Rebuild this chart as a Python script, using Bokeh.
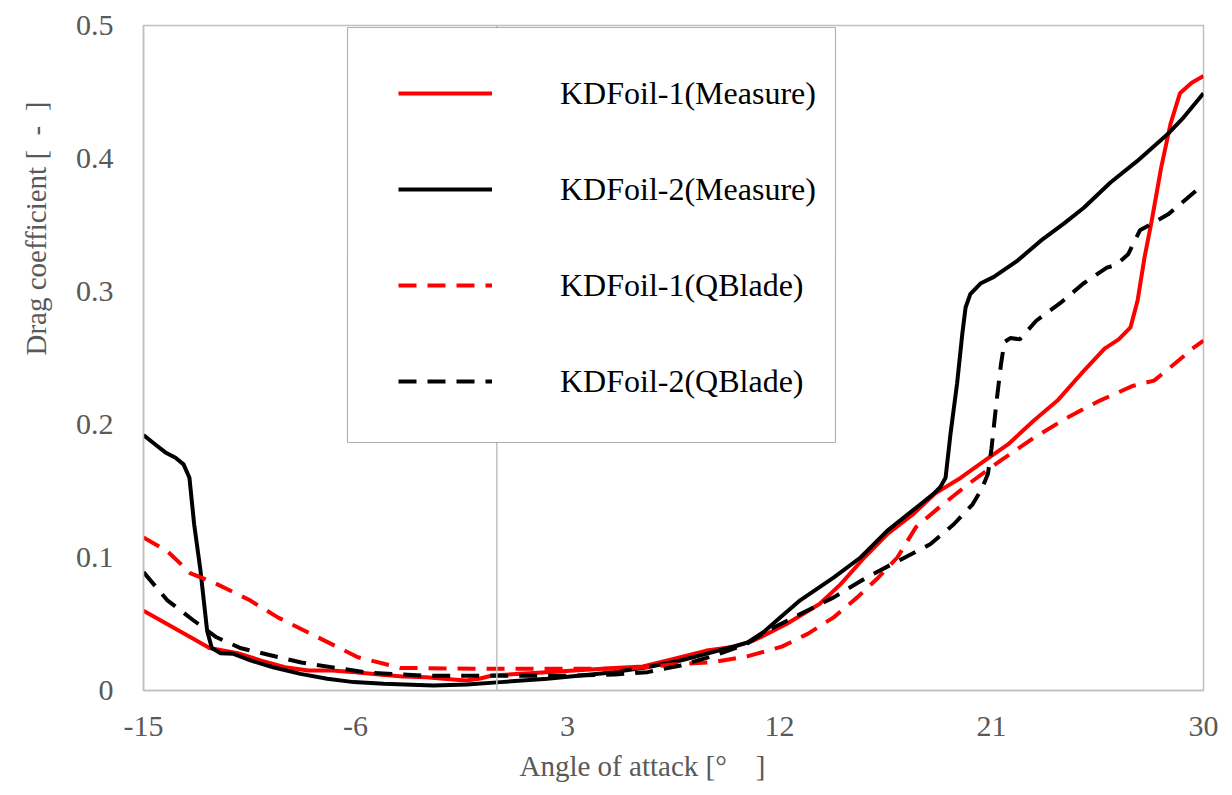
from bokeh.plotting import figure
from bokeh.models import (FixedTicker, Range1d, Span, BoxAnnotation, Legend, LegendItem, Title)
from bokeh.embed import file_html
from bokeh.resources import INLINE

# ---- data ----
x_ticks = [-15, -6, 3, 12, 21, 30]
x_tick_labels = ["-15", "-6", "3", "12", "21", "30"]
y_ticks = [0, 0.1, 0.2, 0.3, 0.4, 0.5]
y_tick_labels = ["0", "0.1", "0.2", "0.3", "0.4", "0.5"]

series_names = ["KDFoil-1(Measure)", "KDFoil-2(Measure)", "KDFoil-1(QBlade)", "KDFoil-2(QBlade)"]

kd1_meas_x = [-15, -14, -13, -12.2, -11, -10, -9, -8, -7, -6, -5, -4, -3, -2, -1.3, -0.7, -0.2, 0, 2.1, 5,
              6.2, 7.8, 8.9, 10.1, 10.9, 11.2, 12.3, 13.7, 14.6, 15.6, 16.6, 17.7, 18.6, 19.7, 20.8,
              21.7, 22.8, 23.8, 24.8, 25.8, 26.4, 26.9, 27.2, 27.5, 27.8, 28.2, 28.6, 29.0, 29.5, 30]
kd1_meas_y = [0.060, 0.050, 0.040, 0.032, 0.028, 0.0225, 0.0175, 0.015, 0.015, 0.0138, 0.012, 0.0105, 0.010,
              0.0085, 0.0075, 0.009, 0.0113, 0.0115, 0.0138, 0.017, 0.018, 0.025, 0.030, 0.033, 0.0376,
              0.040, 0.050, 0.065, 0.080, 0.100, 0.118, 0.133, 0.148, 0.160, 0.174, 0.185, 0.203, 0.218,
              0.238, 0.257, 0.264, 0.273, 0.293, 0.326, 0.353, 0.393, 0.426, 0.449, 0.457, 0.462]

kd2_meas_x = [-15, -14.5, -14.07, -13.64, -13.3, -13.05, -12.85, -12.58, -12.3, -12.1, -11.73, -11.18,
              -10.46, -9.5, -8.34, -7.2, -6.08, -4.8, -2.7, -1.26, 0.16, 2.14, 4.97, 6.38, 7.8, 9.21,
              10.63, 11.33, 12.04, 12.89, 14.31, 15.44, 16.57, 17.84, 18.55, 18.83, 19.05, 19.26, 19.54,
              19.76, 19.9, 20.1, 20.53, 21.1, 22.09, 23.08, 24.07, 24.92, 26.05, 27.18, 28.46, 29.16, 30]
kd2_meas_y = [0.192, 0.185, 0.179, 0.175, 0.170, 0.160, 0.125, 0.090, 0.045, 0.032, 0.028, 0.0276, 0.0226,
              0.0175, 0.0125, 0.0088, 0.0063, 0.005, 0.0038, 0.0045, 0.0063, 0.0088, 0.0138, 0.0175,
              0.0226, 0.029, 0.036, 0.044, 0.055, 0.068, 0.085, 0.100, 0.120, 0.138, 0.148, 0.153, 0.160,
              0.193, 0.231, 0.268, 0.288, 0.298, 0.306, 0.311, 0.323, 0.338, 0.351, 0.363, 0.382, 0.398,
              0.418, 0.431, 0.449]

kd1_qb_x = [-15, -14, -13, -12, -10.5, -9.3, -7.6, -5.9, -4.1, -2, 0, 3, 5.7, 7.8, 9.2, 10.7, 12.1, 13.2,
            14.3, 15.3, 16.2, 17.0, 17.8, 18.8, 20.0, 21.4, 22.8, 24.2, 25.6, 27.0, 27.9, 28.8, 29.6, 30]
kd1_qb_y = [0.115, 0.105, 0.088, 0.081, 0.068, 0.055, 0.040, 0.025, 0.017, 0.0165, 0.0163, 0.0163, 0.0165,
            0.020, 0.0213, 0.026, 0.033, 0.0426, 0.055, 0.070, 0.085, 0.100, 0.123, 0.138, 0.155, 0.173,
            0.190, 0.205, 0.218, 0.229, 0.233, 0.246, 0.258, 0.263]

kd2_qb_x = [-15, -14, -12.9, -11.9, -10.9, -8.3, -5.5, -3, 0, 3, 5, 6.4, 7.8, 9.2, 10.6, 11.5, 12.9, 14.3,
            15.7, 17.1, 18.4, 19.4, 20.2, 20.6, 20.85, 21.0, 21.2, 21.4, 21.55, 21.8, 22.2, 22.9, 23.9,
            24.9, 25.9, 26.3, 26.8, 27.3, 28.5, 29.7, 30]
kd2_qb_y = [0.089, 0.068, 0.053, 0.040, 0.032, 0.021, 0.0135, 0.011, 0.011, 0.011, 0.012, 0.0138, 0.0188,
            0.026, 0.035, 0.045, 0.0576, 0.070, 0.085, 0.098, 0.110, 0.125, 0.140, 0.152, 0.163, 0.182,
            0.215, 0.245, 0.262, 0.265, 0.264, 0.278, 0.291, 0.306, 0.318, 0.320, 0.328, 0.346, 0.358,
            0.376, 0.378]

x_title = "Angle of attack [°\u3000]"
y_title = "Drag coefficient [\u2002-\u2002]"

# ---- figure ----
FONT = "Liberation Serif"
GRAY_TXT = "#595959"
GRAY_LINE = "#bfbfbf"

p = figure(width=1232, height=795, output_backend="svg", toolbar_location=None,
           x_range=Range1d(-15, 30), y_range=Range1d(0, 0.5),
           min_border_left=143, min_border_right=29, min_border_top=25, min_border_bottom=105)
p.background_fill_color = "white"
p.border_fill_color = "white"
p.outline_line_color = GRAY_LINE
p.outline_line_width = 1.5
p.xgrid.grid_line_color = None
p.ygrid.grid_line_color = None

for ax in (p.xaxis[0], p.yaxis[0]):
    ax.axis_line_color = GRAY_LINE
    ax.axis_line_width = 1.5
    ax.major_tick_line_color = None
    ax.minor_tick_line_color = None
    ax.major_tick_out = 0
    ax.major_tick_in = 0
    ax.minor_tick_out = 0
    ax.major_label_text_font = FONT
    ax.major_label_text_font_size = "30px"
    ax.major_label_text_color = GRAY_TXT

p.xaxis[0].ticker = FixedTicker(ticks=x_ticks)
p.xaxis[0].major_label_overrides = dict(zip(x_ticks, x_tick_labels))
p.xaxis[0].major_label_standoff = 26
p.yaxis[0].ticker = FixedTicker(ticks=y_ticks)
p.yaxis[0].major_label_overrides = dict(zip(y_ticks, y_tick_labels))
p.yaxis[0].major_label_standoff = 30

# vertical axis line at x = 0
p.add_layout(Span(location=0, dimension="height", line_color=GRAY_LINE, line_width=1.5))

LW = 4
r1 = p.line(kd1_meas_x, kd1_meas_y, line_color="#ff0000", line_width=LW, line_join="round")
r2 = p.line(kd2_meas_x, kd2_meas_y, line_color="#000000", line_width=LW, line_join="round")
r3 = p.line(kd1_qb_x, kd1_qb_y, line_color="#ff0000", line_width=LW, line_dash="18 11")
r4 = p.line(kd2_qb_x, kd2_qb_y, line_color="#000000", line_width=LW, line_dash="18 11")

# legend frame
p.add_layout(BoxAnnotation(left=204, right=692, bottom=248, top=663,
                           left_units="screen", right_units="screen",
                           bottom_units="screen", top_units="screen",
                           fill_color="white", fill_alpha=1.0,
                           line_color="black", line_width=1.2))

legend = Legend(items=[LegendItem(label=n, renderers=[r]) for n, r in zip(series_names, [r1, r2, r3, r4])],
                location=(255, 261), padding=0, margin=0, spacing=0,
                glyph_width=94, glyph_height=96, label_standoff=68,
                label_text_font=FONT, label_text_font_size="32px", label_text_color="black",
                border_line_alpha=0, background_fill_alpha=0)
p.add_layout(legend, "center")

# axis titles (as side titles so they can be offset along the axis)
p.add_layout(Title(text=x_title, align="left", offset=376, vertical_align="top", standoff=22,
                   text_font=FONT, text_font_size="29px", text_color=GRAY_TXT,
                   text_font_style="normal"), "below")
p.add_layout(Title(text=y_title, align="left", offset=335, vertical_align="top", standoff=37,
                   text_font=FONT, text_font_size="29px", text_color=GRAY_TXT,
                   text_font_style="normal"), "left")

open("out.html", "w").write(file_html(p, INLINE))
